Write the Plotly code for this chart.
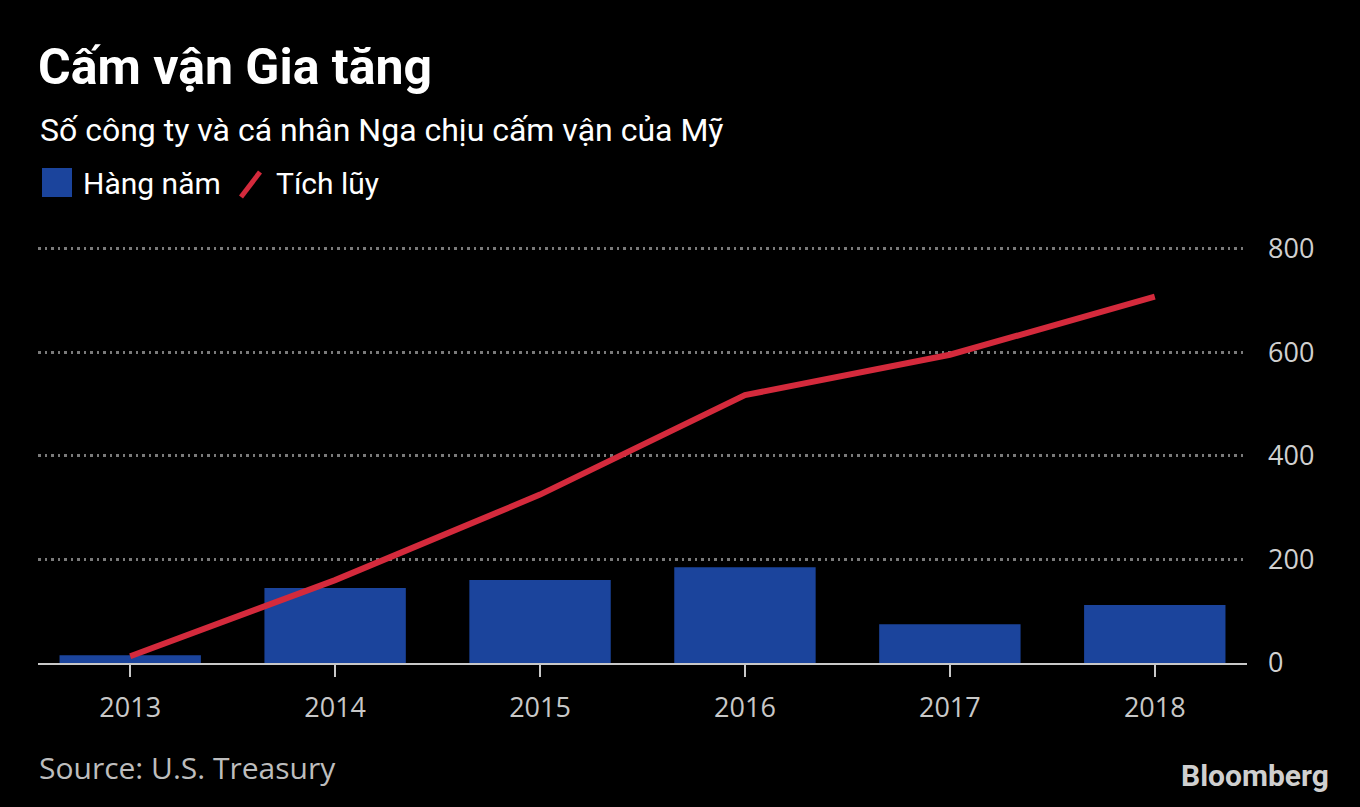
import plotly.graph_objects as go

years = ["2013", "2014", "2015", "2016", "2017", "2018"]
annual = [15, 145, 160, 185, 75, 112]
cumulative = [13, 160, 325, 517, 595, 707]
y_ticks = [0, 200, 400, 600, 800]

W, H = 1360, 807
L, R, T, B = 38, 113, 247, 144
PW, PH = W - L - R, H - T - B

def px(x):
    return (x - L) / PW

def py(y):
    return (H - B - y) / PH

BLUE = "#1b449c"
RED = "#d42a3c"
TICKFONT = "Open Sans"

fig = go.Figure()
fig.add_trace(go.Bar(x=years, y=annual, marker=dict(color=BLUE, line=dict(width=0)),
                     width=0.69, name="Hàng năm"))
fig.add_trace(go.Scatter(x=years, y=cumulative, mode="lines",
                         line=dict(color=RED, width=6), name="Tích lũy"))

annotations = [
    dict(text="<b>Cấm vận Gia tăng</b>", x=px(36), y=py(67), xanchor="left", yanchor="middle",
         font=dict(family="Roboto", size=50, color="white")),
    dict(text="Số công ty và cá nhân Nga chịu cấm vận của Mỹ", x=px(38), y=py(130),
         xanchor="left", yanchor="middle", font=dict(family="Roboto", size=32, color="white")),
    dict(text="Hàng năm", x=px(81), y=py(183), xanchor="left", yanchor="middle",
         font=dict(family="Roboto", size=30, color="white")),
    dict(text="Tích lũy", x=px(274), y=py(183), xanchor="left", yanchor="middle",
         font=dict(family="Roboto", size=30, color="white")),
    dict(text="Source: U.S. Treasury", x=px(37), y=py(767), xanchor="left", yanchor="middle",
         font=dict(family=TICKFONT, size=30, color="#bdbdbd")),
    dict(text="<b>Bloomberg</b>", x=px(1331), y=py(775), xanchor="right", yanchor="middle",
         font=dict(family="Roboto", size=30, color="#cfcfcf")),
]
for a in annotations:
    a.update(xref="paper", yref="paper", showarrow=False)

shapes = [
    dict(type="rect", xref="paper", yref="paper", x0=px(42), x1=px(72), y0=py(197), y1=py(168),
         fillcolor=BLUE, line=dict(width=0)),
    dict(type="line", xref="paper", yref="paper", x0=px(241), x1=px(260), y0=py(197), y1=py(172),
         line=dict(color=RED, width=5)),
]

fig.update_layout(
    width=W, height=H,
    margin=dict(l=L, r=R, t=T, b=B),
    paper_bgcolor="black", plot_bgcolor="black",
    showlegend=False,
    annotations=annotations,
    shapes=shapes,
    xaxis=dict(
        type="category", range=[-0.45, 5.45],
        showgrid=False, showline=True, linecolor="#c8c8c8", linewidth=2,
        ticks="outside", ticklen=12, tickwidth=2, tickcolor="#c8c8c8",
        tickfont=dict(family=TICKFONT, size=27, color="#c8c8c8"),
        ticklabelstandoff=8, layer="above traces", zeroline=False,
    ),
    yaxis=dict(
        range=[0, 803], side="right", tickvals=y_ticks,
        showgrid=True, gridcolor="#7a7a7a", gridwidth=2.5, griddash="2.5px,4px",
        zeroline=False, showline=False, ticks="",
        tickfont=dict(family=TICKFONT, size=27, color="#d0d0d0"),
        ticklabelstandoff=20,
    ),
)

fig.write_html("out.html")
